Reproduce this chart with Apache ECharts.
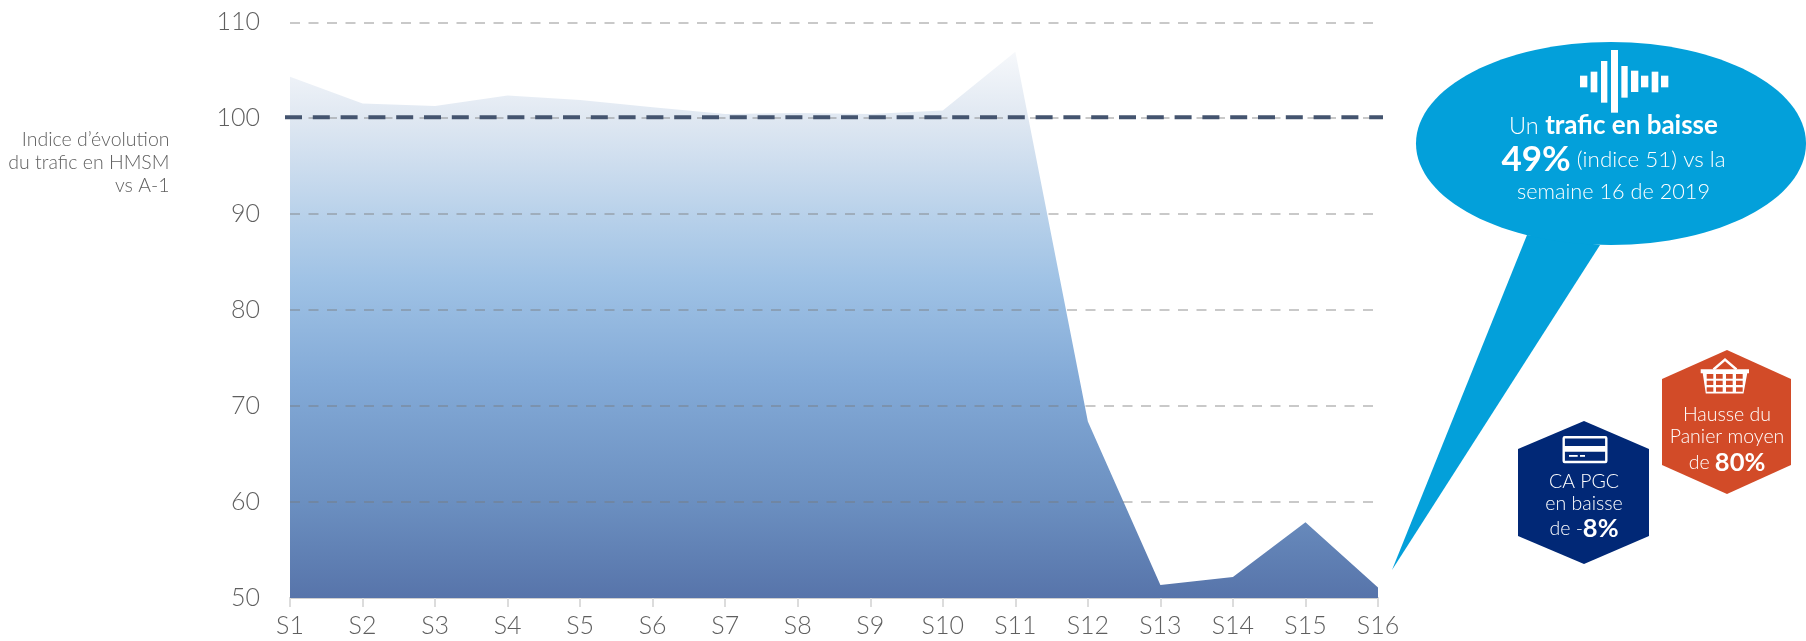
<!DOCTYPE html>
<html><head><meta charset="utf-8">
<style>html,body{margin:0;padding:0;background:#fff}#c{width:1806px;height:641px}</style>
<script src="https://cdn.jsdelivr.net/npm/echarts@6/dist/echarts.min.js"></script>
</head><body><div id="c"></div>
<script>
const categories = ['S1','S2','S3','S4','S5','S6','S7','S8','S9','S10','S11','S12','S13','S14','S15','S16'];
const traffic = [104.33,101.55,101.28,102.36,101.9,101.15,100.45,100.55,100.45,100.8,106.93,68.4,51.35,52.2,57.9,51.1];
const refCategories = ['S1','S16'];
const refValues = [100,100];
const yTitle = 'Indice d\u2019\u00e9volution\ndu trafic en HMSM\nvs A-1';

const FF = 'Lato';
const chart = echarts.init(document.getElementById('c'), null, {renderer:'canvas'});
const W = '#ffffff';
const BLUE = '#03a0da', NAVY = '#012876', ORANGE = '#d24b28';
const poly = (pts, fill) => ({type:'polygon', shape:{points:pts}, style:{fill}, silent:true});
const rect = (x,y,w,h,fill) => ({type:'rect', shape:{x,y,width:w,height:h}, style:{fill}, silent:true});
const zx = v => 1380 + v/3, zy1 = v => 30 + v/3;
const soundBars = [[600,622,137,172],[632,652,125,187],[663,682,93,218],[693,714,60,248],[724,743,108,203],[753,775,122,186],[783,805,137,172],[815,835,125,187],[843,865,137,172]]
  .map(b => rect(zx(b[0]), zy1(b[2]), (b[1]-b[0])/3, (b[3]-b[2])/3, W));
const basketCells = [];
[[374,378.7],[380.7,385],[387.3,391.7]].forEach(r => {
  [[1706.7,1713.3],[1716,1722.7],[1726,1732.7],[1736,1742.7]].forEach(c => {
    basketCells.push(rect(c[0], r[0], c[1]-c[0], r[1]-r[0], ORANGE));
  });
});
const richBase = {fontFamily:FF, fontWeight:300, fill:W};
const centered = (x,y,text,size) => ({type:'text', x, y, silent:true, style:{text, font:'300 '+size+'px '+FF, fill:W, align:'center', verticalAlign:'middle'}});
const mixed = (x,y,text,lSize,bSize) => ({type:'text', x, y, silent:true, style:{text, align:'center', verticalAlign:'middle',
    rich:{l:{...richBase,fontSize:lSize},b:{fontFamily:FF,fontWeight:700,fontSize:bSize,fill:W}}}});
const graphic = [
  {type:'text', x:169.5, y:128, silent:true, style:{text:yTitle, font:'300 19.5px '+FF, fill:'#5f5f5f', align:'right', lineHeight:23, textVerticalAlign:'top'}},
  poly([[1527,235],[1600,245],[1392,570]], BLUE),
  {type:'ellipse', shape:{cx:1611,cy:143.5,rx:195,ry:101.5}, style:{fill:BLUE}, silent:true},
  ...soundBars,
  mixed(1613.5,126,'{l|Un }{b|trafic en baisse}',23.5,26),
  mixed(1613.5,160,'{b|49%}{l| (indice 51) vs la}',22.4,35),
  centered(1613.5,192,'semaine 16 de 2019',21.7),

  poly([[1584,421],[1649,449],[1649,536],[1584,564],[1518,536],[1518,449]], NAVY),
  {type:'rect', shape:{x:1563.7,y:437.2,width:42.6,height:24.8,r:1}, style:{fill:'none',stroke:W,lineWidth:2.4}, silent:true},
  rect(1563.7,446,42.6,5.7,W),
  rect(1569,455,8.7,1.8,W),
  rect(1580,455,5,1.8,W),
  centered(1584,482,'CA PGC',19.5),
  centered(1584,504,'en baisse',19.5),
  mixed(1584,529,'{l|de -}{b|8%}',19.5,25.5),

  poly([[1727,350],[1791,379],[1791,465],[1727,494],[1662,465],[1662,379]], ORANGE),
  {type:'polyline', shape:{points:[[1713.5,369.5],[1725,359.5],[1736.5,369.5]]}, style:{fill:'none',stroke:W,lineWidth:2.4}, silent:true},
  rect(1700.7,369.3,48.3,4,W),
  poly([[1702.7,373],[1747.3,373],[1743.5,393.5],[1705.8,393.5]], W),
  ...basketCells,
  centered(1727,415,'Hausse du',19.5),
  centered(1727,437,'Panier moyen',19.5),
  mixed(1727,463,'{l|de }{b|80%}',19.5,25.5)
];

chart.setOption({
  animation:false,
  backgroundColor:'#fff',
  textStyle:{fontFamily:FF},
  grid:[
    {left:290, top:22.3, width:1088, height:575.7},
    {left:285, top:21.3, width:1098, height:575.7}
  ],
  xAxis:[
    {type:'category', gridIndex:0, data:categories, boundaryGap:false,
     axisLine:{lineStyle:{color:'#cfcfcf',width:2}},
     axisTick:{show:true,length:9,alignWithLabel:true,lineStyle:{color:'#dcdcdc',width:2}},
     axisLabel:{color:'#5f5f5f',fontSize:25,fontFamily:FF,fontWeight:300,margin:15,interval:0,hideOverlap:false}},
    {type:'category', gridIndex:1, data:refCategories, boundaryGap:false, show:false}
  ],
  yAxis:[
    {type:'value', gridIndex:0, min:50, max:110, interval:10, z:3,
     axisLine:{show:false}, axisTick:{show:false},
     axisLabel:{color:'#5f5f5f',fontSize:25,fontFamily:FF,fontWeight:300,margin:30},
     splitLine:{show:true,showMinLine:false,lineStyle:{color:'rgba(120,120,120,0.4)',width:2,type:[10,8.5]}}},
    {type:'value', gridIndex:1, min:50, max:110, interval:10, show:false}
  ],
  series:[
    {name:'Trafic', type:'line', xAxisIndex:0, yAxisIndex:0, data:traffic, showSymbol:false, silent:true,
     lineStyle:{width:0}, z:2,
     areaStyle:{opacity:1, color:new echarts.graphic.LinearGradient(0,0,0,1,[
       {offset:0,color:'#f6f8fb'},{offset:0.12,color:'#e0e8f2'},{offset:0.30,color:'#b8d1ea'},
       {offset:0.42,color:'#9fc2e5'},{offset:0.60,color:'#83aad7'},{offset:0.826,color:'#6b8fc0'},{offset:1,color:'#5774aa'}])}},
    {name:'R\u00e9f\u00e9rence', type:'line', xAxisIndex:1, yAxisIndex:1, data:refValues, showSymbol:false, silent:true, z:5,
     lineStyle:{color:'#44546f',width:4,type:[17,10.8]}}
  ],
  graphic
});
</script></body></html>
